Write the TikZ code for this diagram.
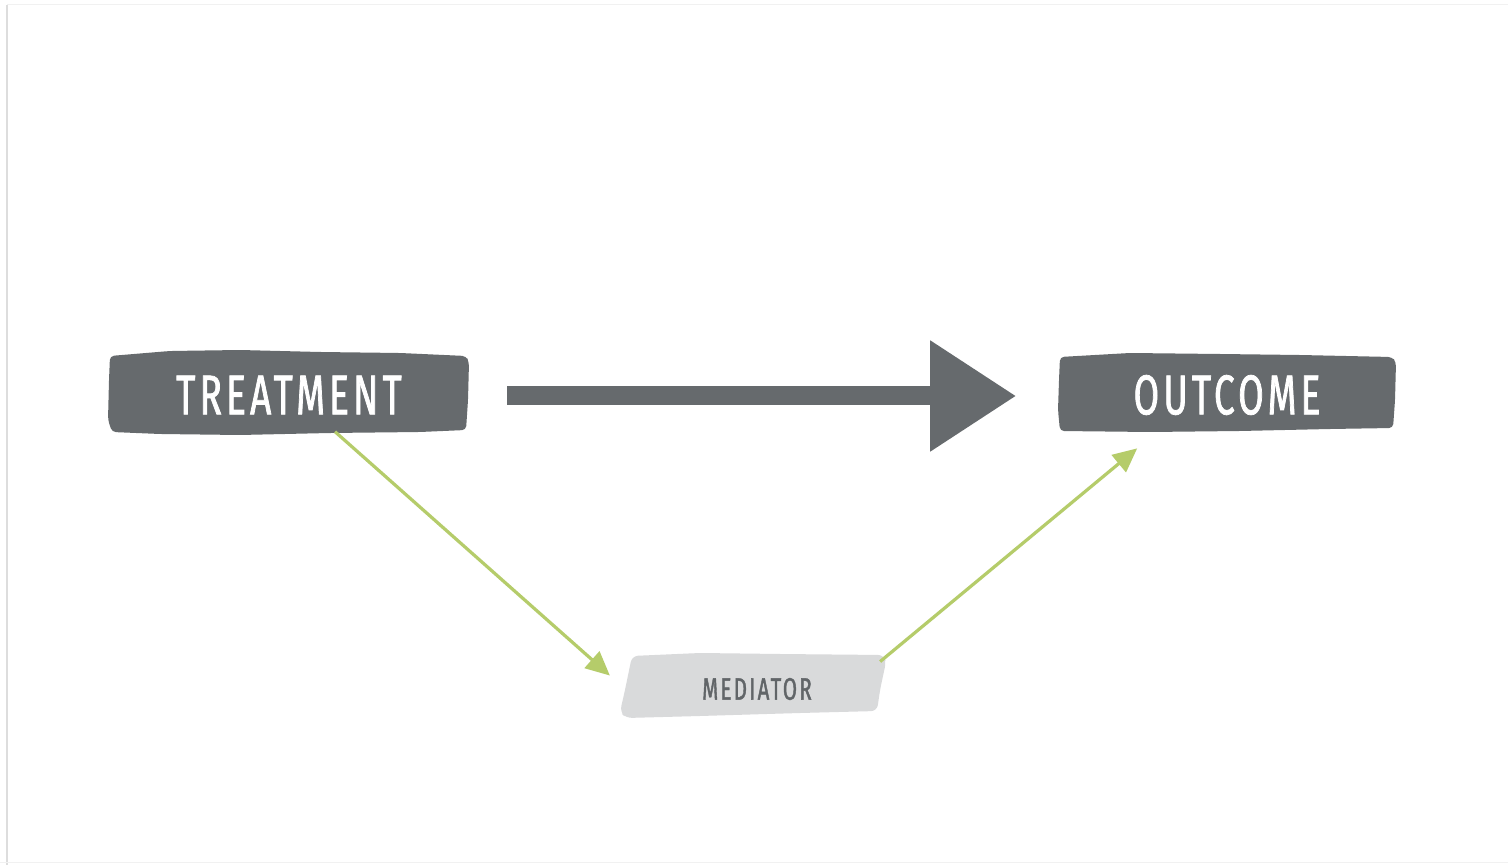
\documentclass[tikz,border=0pt]{standalone}
\usepackage{fontspec}
\setmainfont{Fira Sans}[FakeStretch=0.66, LetterSpace=7.5, FakeBold=1.3]
\usetikzlibrary{arrows.meta,calc}
\definecolor{slate}{HTML}{666A6D}
\definecolor{mist}{HTML}{D9DADB}
\definecolor{leaf}{HTML}{B5CC6A}
\definecolor{frame}{HTML}{DDDDDD}
\begin{document}
\begin{tikzpicture}[x=0.5pt,y=-0.5pt,
  label/.style={inner sep=0pt, font=\fontsize{28}{30}\selectfont, text=white},
  smalllabel/.style={inner sep=0pt, font=\fontsize{15.5}{17}\selectfont, text=slate!95!black},
  link/.style={leaf, line width=1.6pt, -{Triangle[length=12pt,width=11pt]}},
  bigarrow/.style={slate, line width=9.5pt, -{Triangle[length=43pt,width=53pt]}}]
  \useasboundingbox (0,0) rectangle (1508,865);
  \fill[white] (0,0) rectangle (1508,865);
  % page edges
  \draw[frame, line width=1.2pt] (7,5) -- (7,865);
  \draw[frame!40, line width=0.5pt] (7,5) -- (1508,5);
  \draw[frame!40, line width=0.5pt] (0,862) -- (1508,862);

  % brush-stroke backgrounds
  \fill[slate, rounded corners=2pt]
    (110,356) -- (170,351) -- (240,350) -- (320,352) -- (400,353) -- (466,356)
    -- (469,362) -- (468,400) -- (466,430) -- (420,432) -- (330,433) -- (240,435)
    -- (160,434) -- (112,432) -- (108,420) -- (109,380) -- cycle;
  \fill[slate, rounded corners=2pt]
    (1060,357) -- (1130,353) -- (1220,354) -- (1300,355) -- (1392,357)
    -- (1396,362) -- (1395,400) -- (1393,428) -- (1330,429) -- (1240,431) -- (1150,432)
    -- (1060,431) -- (1058,410) -- (1059,380) -- cycle;
  \fill[mist, rounded corners=3pt]
    (632,656) -- (700,653) -- (780,654) -- (884,655) -- (886,662)
    -- (880,690) -- (877,711) -- (800,713) -- (700,716) -- (626,718)
    -- (620,712) -- (625,690) -- cycle;

  % labels
  \node[label] (T) at (289,395) {TREATMENT};
  \node[label] (O) at (1227,395) {OUTCOME};
  \node[smalllabel] (M) at (757,689) {MEDIATOR};

  % connectors
  \coordinate (Tb) at ($(T.south)+(46,17)$);
  \coordinate (Mt) at ($(M.north west)+(-92,-2)$);
  \coordinate (Mr) at ($(M.north east)+(68,-16)$);
  \coordinate (Ob) at ($(O.south west)+(4,33)$);
  \draw[link] (Tb) -- (Mt);
  \draw[link] (Mr) -- (Ob);
  \draw[bigarrow] ($(T.east)+(105,1)$) -- ($(O.west)+(-117,1)$);
\end{tikzpicture}
\end{document}
